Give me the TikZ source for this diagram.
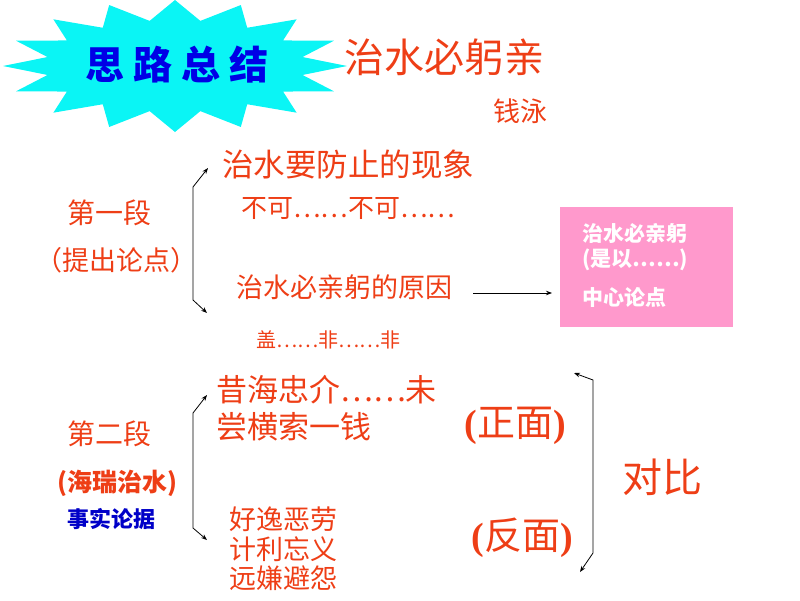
\documentclass[tikz,border=0pt]{standalone}
\usepackage{fontspec}
\setmainfont{Noto Sans CJK SC}
\newfontfamily\serifparen{Liberation Serif}
\usetikzlibrary{arrows.meta}
\definecolor{myred}{RGB}{238,62,22}
\definecolor{burstcyan}{RGB}{10,245,245}
\definecolor{titleblue}{RGB}{0,0,230}
\definecolor{factblue}{RGB}{0,0,200}
\definecolor{boxpink}{RGB}{255,153,204}
\newcommand{\fsz}[1]{\fontsize{#1}{#1}\selectfont}
\tikzset{
  txt/.style={anchor=west, inner sep=0pt, text=myred},
  ctxt/.style={anchor=center, inner sep=0pt, text=myred},
  boxtxt/.style={anchor=west, inner sep=0pt, text=white, font=\bfseries},
  brace/.style={draw=black, line width=0.8pt, {Stealth[length=6pt,width=4.5pt]}-{Stealth[length=6pt,width=4.5pt]}},
  link/.style={draw=black, line width=0.8pt, -{Stealth[length=6pt,width=4.5pt]}}
}
\begin{document}
\begin{tikzpicture}[x=1pt,y=-1pt]
\useasboundingbox (0,0) rectangle (800,600);
% starburst
\fill[burstcyan, shift={(175,66)}] (0:172 and 66)
  \foreach \k in {0,...,15} { -- (\k*22.5+11.25:130 and 46) -- (\k*22.5+22.5:172 and 66) } -- cycle;
\node[anchor=center, inner sep=0pt, text=titleblue] (title) at (177,65)
  {\fsz{39}\bfseries 思\hspace{9pt}路\hspace{9pt}总\hspace{9pt}结};
\node[txt] (head) at (344,57) {\fsz{40}治水必躬亲};
\node[txt] (author) at (493,111) {\fsz{27}钱泳};
% section 1
\node[txt] (s1) at (67,213) {\fsz{28}第一段};
\node[ctxt] (s1b) at (116,260) {\fsz{27}（提出论点）};
\node[txt] (a1) at (222,165) {\fsz{31.5}治水要防止的现象};
\node[txt] (a2) at (241,208) {\fsz{26}不可……不可……};
\node[txt] (a3) at (236,287) {\fsz{27}治水必亲躬的原因};
\node[txt] (a4) at (256,340) {\fsz{20}盖……非……非};
\coordinate (b1t) at (208,168);
\coordinate (b1u) at (193,187);
\coordinate (b1l) at (193,300);
\coordinate (b1b) at (207,313);
\draw[brace] (b1t) -- (b1u) -- (b1l) -- (b1b);
% pink box
\node[fill=boxpink, minimum width=173pt, minimum height=120pt, anchor=north west, inner sep=0pt] (box) at (560,207) {};
\node[boxtxt] (bx1) at (582,233) {\fsz{21}治水必亲躬};
\node[boxtxt] (bx2) at (582,260) {\fsz{21}(是以……)};
\node[boxtxt] (bx3) at (582,297) {\fsz{21}中心论点};
\coordinate (arrs) at (473,293);
\draw[link] (arrs) -- ([xshift=-8pt]box.west |- arrs);
% section 2
\node[txt] (s2) at (67,434) {\fsz{28}第二段};
\node[ctxt, font=\bfseries] (s2b) at (117,483) {\fsz{25}(海瑞治水)};
\node[txt, text=factblue, font=\bfseries] (s2c) at (67,519) {\fsz{22}事实论据};
\node[txt] (c1) at (216,390) {\fsz{31}昔海忠介……未};
\node[txt] (c2) at (216,427) {\fsz{31}尝横索一钱};
\node[txt] (d1) at (229,519) {\fsz{27}好逸恶劳};
\node[txt] (d2) at (229,549) {\fsz{27}计利忘义};
\node[txt] (d3) at (229,578) {\fsz{27}远嫌避怨};
\node[ctxt] (p1) at (515,426) {\fsz{38}{\serifparen\bfseries(}正面{\serifparen\bfseries)}};
\node[ctxt] (p2) at (522,538) {\fsz{38}{\serifparen\bfseries(}反面{\serifparen\bfseries)}};
\node[txt] (cmp) at (622,477) {\fsz{40}对比};
\coordinate (b2t) at (207,395);
\coordinate (b2u) at (193,413);
\coordinate (b2l) at (193,528);
\coordinate (b2b) at (207,540);
\draw[brace] (b2t) -- (b2u) -- (b2l) -- (b2b);
\coordinate (b3t) at (574,373);
\coordinate (b3u) at (593,380);
\coordinate (b3l) at (593,553);
\coordinate (b3b) at (580,572);
\draw[brace] (b3t) -- (b3u) -- (b3l) -- (b3b);
\end{tikzpicture}
\end{document}
